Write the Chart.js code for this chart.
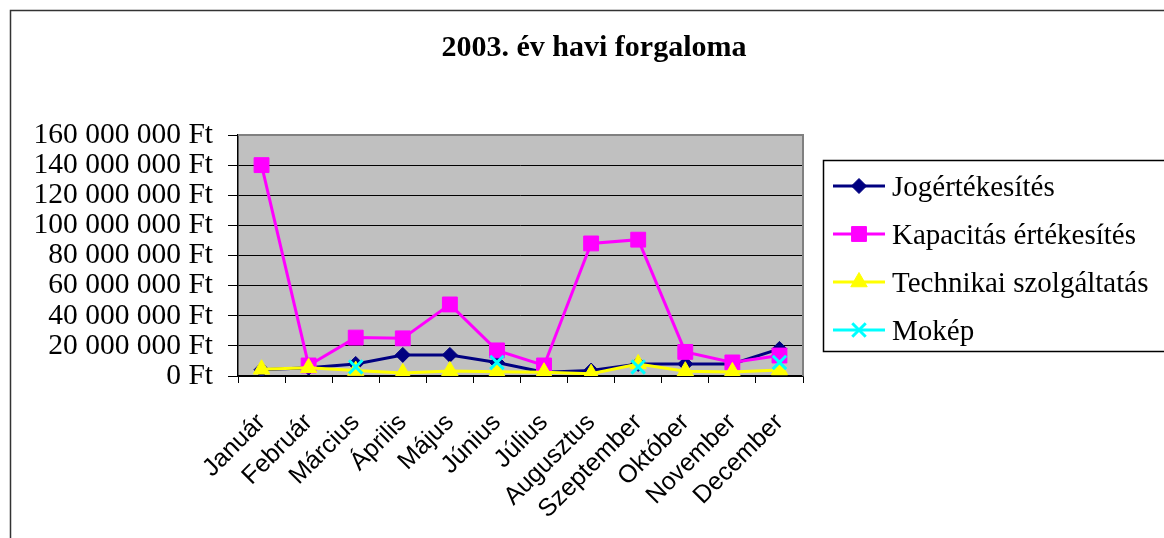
<!DOCTYPE html>
<html>
<head>
<meta charset="utf-8">
<title>2003. év havi forgaloma</title>
<script src="https://cdn.jsdelivr.net/npm/chart.js@4.4.1/dist/chart.umd.min.js"></script>
<style>
  html, body { margin: 0; padding: 0; background: #fff; }
  #wrap { width: 1164px; height: 538px; }
</style>
</head>
<body>
<div id="wrap"><canvas id="chart" width="1164" height="538"></canvas></div>
<script>
const months = ["Január", "Február", "Március", "Április", "Május", "Június",
  "Július", "Augusztus", "Szeptember", "Október", "November", "December"];

// havi bevételek forintban
const jogertekesites = [4200000, 5500000, 8000000, 14000000, 14000000, 9000000,
  2500000, 3600000, 8000000, 8000000, 8000000, 18000000];
const kapacitas = [140000000, 7000000, 25500000, 25000000, 47500000, 17000000,
  7000000, 88000000, 90500000, 16000000, 9000000, 13600000];
const technikai = [4500000, 5500000, 3600000, 2000000, 3400000, 2800000,
  2500000, 1500000, 8000000, 3200000, 2700000, 4000000];
// Mokép csak negyedévente számláz
const mokep = [null, null, 6000000, null, null, 9000000,
  null, null, 6000000, null, null, 9000000];

const yMin = 0;
const yMax = 160000000;
const yStep = 20000000;

function ft(v) {
  return String(v).replace(/\B(?=(\d{3})+(?!\d))/g, " ") + " Ft";
}

const serif = "'Liberation Serif', 'Times New Roman', serif";
const sans = "'Liberation Sans', Arial, sans-serif";

// szürke rajzterület, keret, cím és jelmagyarázat
const frame = {
  id: "frame",
  beforeDraw(chart) {
    const { ctx, chartArea: a } = chart;
    ctx.save();
    ctx.fillStyle = "#fff";
    ctx.fillRect(0, 0, chart.width, chart.height);
    ctx.fillStyle = "#c0c0c0";
    ctx.fillRect(a.left, a.top, a.right - a.left, a.bottom - a.top);
    ctx.restore();
  },
  beforeDatasetsDraw(chart) {
    const { ctx, chartArea: a } = chart;
    ctx.save();
    ctx.strokeStyle = "#808080";
    ctx.lineWidth = 2;
    ctx.beginPath();
    ctx.moveTo(a.left, a.top);
    ctx.lineTo(a.right, a.top);
    ctx.lineTo(a.right, a.bottom);
    ctx.stroke();
    ctx.restore();
  },
  afterDraw(chart) {
    const ctx = chart.ctx;
    ctx.save();
    // külső keret
    ctx.strokeStyle = "#333";
    ctx.lineWidth = 1.5;
    ctx.strokeRect(10.5, 10.5, 1300, 700);

    // cím
    ctx.fillStyle = "#000";
    ctx.font = "bold 30px " + serif;
    ctx.textAlign = "center";
    ctx.textBaseline = "middle";
    ctx.fillText("2003. év havi forgaloma", 594, 48);

    // jelmagyarázat
    ctx.strokeStyle = "#000";
    ctx.lineWidth = 1.5;
    ctx.strokeRect(823.5, 160.5, 400, 191);
    ctx.font = "29px " + serif;
    ctx.textAlign = "left";
    chart.data.datasets.forEach((ds, i) => {
      const y = 186 + i * 48;
      ctx.strokeStyle = ds.borderColor;
      ctx.lineWidth = 3;
      ctx.beginPath();
      ctx.moveTo(833, y);
      ctx.lineTo(885, y);
      ctx.stroke();
      ctx.fillStyle = ds.pointBackgroundColor;
      ctx.strokeStyle = ds.borderColor;
      ctx.lineWidth = ds.pointBorderWidth;
      Chart.helpers.drawPoint(ctx, {
        pointStyle: ds.pointStyle,
        radius: ds.pointRadius,
        rotation: 0,
        borderWidth: ds.pointBorderWidth
      }, 859, y);
      ctx.fillStyle = "#000";
      ctx.fillText(ds.label, 892, y + 2);
    });
    ctx.restore();
  }
};

function series(label, data, color, style, radius, order, pbw) {
  return {
    label: label,
    data: data,
    borderColor: color,
    backgroundColor: color,
    pointBackgroundColor: color,
    pointBorderColor: color,
    pointStyle: style,
    pointRadius: radius,
    pointBorderWidth: pbw,
    borderWidth: 3,
    tension: 0,
    spanGaps: false,
    order: order
  };
}

new Chart(document.getElementById("chart").getContext("2d"), {
  type: "line",
  data: {
    labels: months,
    datasets: [
      series("Jogértékesítés", jogertekesites, "#000080", "rectRot", 7.5, 4, 1),
      series("Kapacitás értékesítés", kapacitas, "#ff00ff", "rect", 10.5, 3, 1),
      series("Technikai szolgáltatás", technikai, "#ffff00", "triangle", 9.5, 2, 1),
      series("Mokép", mokep, "#00ffff", "crossRot", 9.5, 1, 3)
    ]
  },
  options: {
    responsive: false,
    animation: false,
    devicePixelRatio: 1,
    layout: { padding: { left: 0, top: 135, right: 361, bottom: 0 } },
    plugins: {
      legend: { display: false },
      title: { display: false },
      tooltip: { enabled: false }
    },
    scales: {
      x: {
        type: "category",
        offset: true,
        grid: {
          offset: true,
          drawOnChartArea: false,
          color: "#000",
          tickLength: 7,
          lineWidth: 1
        },
        border: { color: "#000", width: 1.5 },
        ticks: {
          color: "#000",
          font: { family: sans, size: 25 },
          minRotation: 45,
          maxRotation: 45,
          autoSkip: false,
          padding: 25,
          labelOffset: 0
        },
        afterFit(scale) { scale.height = 162; }
      },
      y: {
        min: yMin,
        max: yMax,
        grid: { color: "#000", lineWidth: 1, tickLength: 10 },
        border: { color: "#000", width: 1.5 },
        ticks: {
          stepSize: yStep,
          autoSkip: false,
          color: "#000",
          font: { family: serif, size: 29.5 },
          padding: 15,
          callback: (v) => ft(v)
        },
        afterFit(scale) { scale.width = 238; }
      }
    }
  },
  plugins: [frame]
});
</script>
</body>
</html>
